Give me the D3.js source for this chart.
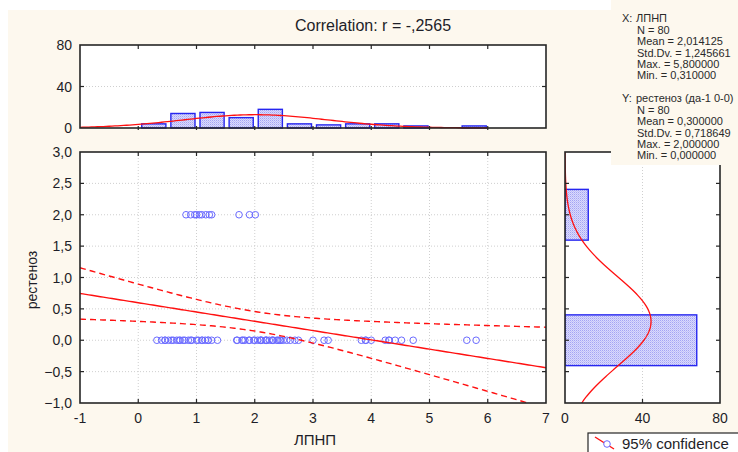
<!DOCTYPE html>
<html><head><meta charset="utf-8">
<script src="https://cdn.jsdelivr.net/npm/d3@7"></script>
<style>body{margin:0;background:#fff}svg{display:block;font-family:"Liberation Sans",Arial,sans-serif}</style>
</head><body><svg id="c" width="738" height="452"></svg>
<script>
// ---------- data ----------
const xTicks = [-1, 0, 1, 2, 3, 4, 5, 6, 7];
const yTicks = [-1, -0.5, 0, 0.5, 1, 1.5, 2, 2.5, 3];
const histTicks = [0, 40, 80];
// ЛПНП values of cases with рестеноз = 0
const pointsY0X = [0.32,0.40,0.46,0.46, 0.52,0.57,0.6,0.66,0.7,0.72,0.77,0.8,0.86,0.9,0.92,
  1.00,1.03,1.09,1.1,1.15,1.2,1.20,1.26,1.36, 1.69,1.7,1.78,1.8,1.83,1.9,1.91,1.98,
  2.0,2.05,2.1,2.1,2.12,2.18,2.2,2.2,2.25,2.3,2.3,2.32,2.38,2.4,2.43,2.45,2.49,
  2.55,2.61,2.69,2.75, 3.0,3.19,3.26, 3.83,3.9,3.91,4.0, 4.24,4.3,4.31,4.41, 4.52,4.72, 5.64,5.8];
// ЛПНП values of cases with рестеноз = 2
const pointsY2X = [0.82,0.90,0.97,1.0,1.05,1.09,1.16,1.22,1.26,1.73,1.91,2.01];
const xBinStarts = [0,0.5,1,1.5,2,2.5,3,3.5,4,4.5,5,5.5];
const xBinCounts = [4,14,15,10,18,4,3,4,4,2,0,2];
const yBinCenters = [0, 2];
const yBinCounts = [68, 12];
const nCases = 80;
const corrR = -0.2565;
const xMean = 2.014125, xSd = 1.245661, xMax = 5.8, xMin = 0.31;
const yMean = 0.3, ySd = 0.718649, yMax = 2.0, yMin = 0.0;
const xName = "ЛПНП", yName = "рестеноз", yLongName = "рестеноз (да-1 0-0)";
const titleText = "Correlation: r = -,2565";
const legendText = "95% confidence";

// ---------- helpers ----------
const comma = s => s.replace(".", ",");
const f6 = v => comma(d3.format(".6f")(v));
const f1 = v => comma(d3.format(".1f")(v));

const svg = d3.select("#c");
const cream = "#fdf8ee";
const frameCol = "#262626";
const textCol = "#1e1e28";
const blue = "#2626f0";
const ptBlue = "#6a6aff";

// background
svg.append("rect").attr("x", 8).attr("y", 10).attr("width", 730).attr("height", 442).attr("fill", cream);

const defs = svg.append("defs");
const pat = defs.append("pattern").attr("id", "hatch").attr("patternUnits", "userSpaceOnUse")
  .attr("width", 2).attr("height", 2);
pat.append("rect").attr("width", 2).attr("height", 2).attr("fill", "#dadafc");
pat.append("rect").attr("width", 1).attr("height", 1).attr("fill", "#a4a4f4");
pat.append("rect").attr("x", 1).attr("y", 1).attr("width", 1).attr("height", 1).attr("fill", "#c0c0f8");

// ---------- scales ----------
const x = d3.scaleLinear().domain([-1, 7]).range([80, 546]);
const y = d3.scaleLinear().domain([-1, 3]).range([403, 152]);
const hy = d3.scaleLinear().domain([0, 80]).range([128, 45]);
const hx = d3.scaleLinear().domain([0, 80]).range([565, 720]);

defs.append("clipPath").attr("id", "clipMain").append("rect")
  .attr("x", 80).attr("y", 152).attr("width", 466).attr("height", 251);
defs.append("clipPath").attr("id", "clipRight").append("rect")
  .attr("x", 565).attr("y", 152).attr("width", 155).attr("height", 251);

// plot backgrounds
svg.append("rect").attr("x", 80).attr("y", 152).attr("width", 466).attr("height", 251).attr("fill", "#fff");
svg.append("rect").attr("x", 80).attr("y", 45).attr("width", 466).attr("height", 83).attr("fill", "#fff");
svg.append("rect").attr("x", 565).attr("y", 152).attr("width", 155).attr("height", 251).attr("fill", "#fff");

// ---------- grid ----------
const grid = svg.append("g").attr("stroke", "#cfcfcf").attr("stroke-dasharray", "1,2").attr("stroke-width", 1);
xTicks.slice(1, -1).forEach(t => grid.append("line").attr("x1", x(t)).attr("x2", x(t)).attr("y1", 152).attr("y2", 403));
yTicks.slice(1, -1).forEach(t => grid.append("line").attr("y1", y(t)).attr("y2", y(t)).attr("x1", 80).attr("x2", 546));
grid.append("line").attr("x1", 80).attr("x2", 546).attr("y1", hy(40)).attr("y2", hy(40));
grid.append("line").attr("x1", hx(40)).attr("x2", hx(40)).attr("y1", 152).attr("y2", 403);

// ---------- regression + confidence ----------
const slope = corrR * ySd / xSd;
const intercept = yMean - slope * xMean;
const sRes = ySd * Math.sqrt((1 - corrR * corrR) * (nCases - 1) / (nCases - 2));
const Sxx = (nCases - 1) * xSd * xSd;
const tCrit = 1.9908;
const xs = d3.range(-1, 7.001, 0.05);
const fit = v => intercept + slope * v;
const half = v => tCrit * sRes * Math.sqrt(1 / nCases + (v - xMean) ** 2 / Sxx);
const line = d3.line().x(d => x(d[0])).y(d => y(d[1]));
const gm = svg.append("g").attr("clip-path", "url(#clipMain)");

// points
gm.selectAll("circle.p0").data(pointsY0X).join("circle")
  .attr("cx", d => x(d)).attr("cy", y(0)).attr("r", 3.3)
  .attr("fill", "none").attr("stroke", ptBlue).attr("stroke-width", 1);
gm.selectAll("circle.p2").data(pointsY2X).join("circle")
  .attr("cx", d => x(d)).attr("cy", y(2)).attr("r", 3.3)
  .attr("fill", "none").attr("stroke", ptBlue).attr("stroke-width", 1);

gm.append("path").attr("d", line(xs.map(v => [v, fit(v)])))
  .attr("fill", "none").attr("stroke", "#ff1010").attr("stroke-width", 1.4);
gm.append("path").attr("d", line(xs.map(v => [v, fit(v) + half(v)])))
  .attr("fill", "none").attr("stroke", "#ff1010").attr("stroke-width", 1.4).attr("stroke-dasharray", "6,4");
gm.append("path").attr("d", line(xs.map(v => [v, fit(v) - half(v)])))
  .attr("fill", "none").attr("stroke", "#ff1010").attr("stroke-width", 1.4).attr("stroke-dasharray", "6,4");

// ---------- top histogram ----------
svg.selectAll("rect.hb").data(xBinStarts).join("rect")
  .attr("x", d => x(d) + 3.5)
  .attr("width", d => x(d + 0.5) - x(d) - 5)
  .attr("y", (d, i) => hy(xBinCounts[i]))
  .attr("height", (d, i) => hy(0) - hy(xBinCounts[i]))
  .attr("fill", "url(#hatch)").attr("stroke", blue).attr("stroke-width", 1.4)
  .style("display", (d, i) => xBinCounts[i] > 0 ? null : "none");
const pdf = (v, m, s) => Math.exp(-0.5 * ((v - m) / s) ** 2) / (s * Math.sqrt(2 * Math.PI));
const topCurve = d3.range(-1, 6.001, 0.05).map(v => [x(v), hy(nCases * 0.5 * pdf(v, xMean, xSd))]);
svg.append("path").attr("d", d3.line()(topCurve)).attr("fill", "none").attr("stroke", "#ff1010").attr("stroke-width", 1.3);

// ---------- right histogram ----------
const gr = svg.append("g").attr("clip-path", "url(#clipRight)");
gr.selectAll("rect.vb").data(yBinCenters).join("rect")
  .attr("x", hx(0))
  .attr("width", (d, i) => hx(yBinCounts[i]) - hx(0))
  .attr("y", d => y(d + 0.5) + 6)
  .attr("height", d => y(d - 0.5) - y(d + 0.5) - 12)
  .attr("fill", "url(#hatch)").attr("stroke", blue).attr("stroke-width", 1.4);
const rightCurve = d3.range(-1, 3.001, 0.02).map(v => [hx(nCases * 1 * pdf(v, yMean, ySd)), y(v)]);
gr.append("path").attr("d", d3.line()(rightCurve)).attr("fill", "none").attr("stroke", "#ff1010").attr("stroke-width", 1.3);

// ---------- frames & ticks ----------
const fr = svg.append("g").attr("fill", "none").attr("stroke", frameCol).attr("stroke-width", 1.6);
fr.append("rect").attr("x", 80).attr("y", 152).attr("width", 466).attr("height", 251);
fr.append("rect").attr("x", 80).attr("y", 45).attr("width", 466).attr("height", 83);
fr.append("rect").attr("x", 565).attr("y", 152).attr("width", 155).attr("height", 251);

const tk = svg.append("g").attr("stroke", frameCol).attr("stroke-width", 1.2);
xTicks.slice(1, -1).forEach(t => {
  tk.append("line").attr("x1", x(t)).attr("x2", x(t)).attr("y1", 403).attr("y2", 399);
  tk.append("line").attr("x1", x(t)).attr("x2", x(t)).attr("y1", 152).attr("y2", 156);
  tk.append("line").attr("x1", x(t)).attr("x2", x(t)).attr("y1", 45).attr("y2", 49);
  tk.append("line").attr("x1", x(t)).attr("x2", x(t)).attr("y1", 126).attr("y2", 130);
});
yTicks.slice(1, -1).forEach(t => {
  tk.append("line").attr("x1", 80).attr("x2", 84).attr("y1", y(t)).attr("y2", y(t));
  tk.append("line").attr("x1", 546).attr("x2", 542).attr("y1", y(t)).attr("y2", y(t));
  tk.append("line").attr("x1", 565).attr("x2", 569).attr("y1", y(t)).attr("y2", y(t));
  tk.append("line").attr("x1", 720).attr("x2", 716).attr("y1", y(t)).attr("y2", y(t));
});
tk.append("line").attr("x1", 80).attr("x2", 84).attr("y1", hy(40)).attr("y2", hy(40));
tk.append("line").attr("x1", 546).attr("x2", 542).attr("y1", hy(40)).attr("y2", hy(40));
tk.append("line").attr("x1", hx(40)).attr("x2", hx(40)).attr("y1", 403).attr("y2", 399);

// ---------- tick labels ----------
const tl = svg.append("g").attr("fill", textCol).attr("font-size", 14);
xTicks.forEach(t => tl.append("text").attr("x", x(t)).attr("y", 423).attr("text-anchor", "middle").text(String(t)));
yTicks.forEach(t => tl.append("text").attr("x", 72).attr("y", y(t) + 5).attr("text-anchor", "end").text(f1(t)));
histTicks.forEach(t => tl.append("text").attr("x", 72).attr("y", hy(t) + 5).attr("text-anchor", "end").text(String(t)));
histTicks.forEach(t => tl.append("text").attr("x", hx(t)).attr("y", 423).attr("text-anchor", "middle").text(String(t)));

// axis titles
svg.append("text").attr("x", 315).attr("y", 445).attr("text-anchor", "middle").attr("font-size", 15).attr("fill", textCol).text(xName);
svg.append("text").attr("transform", "translate(37,280) rotate(-90)").attr("text-anchor", "middle")
  .attr("font-size", 14).attr("fill", textCol).text(yName);
svg.append("text").attr("x", 373).attr("y", 31).attr("text-anchor", "middle").attr("font-size", 16).attr("fill", textCol).text(titleText);

// ---------- stats box ----------
svg.append("rect").attr("x", 611).attr("y", 0).attr("width", 127).attr("height", 165).attr("fill", cream);
const sx = ["N = " + nCases, "Mean = " + f6(xMean), "Std.Dv. = " + f6(xSd), "Max. = " + f6(xMax), "Min. = " + f6(xMin)];
const sy = ["N = " + nCases, "Mean = " + f6(yMean), "Std.Dv. = " + f6(ySd), "Max. = " + f6(yMax), "Min. = " + f6(yMin)];
const st = svg.append("g").attr("fill", "#2a2a2a").attr("font-size", 11);
st.append("text").attr("x", 622).attr("y", 22).text("X:");
st.append("text").attr("x", 636).attr("y", 22).text(xName);
sx.forEach((s, i) => st.append("text").attr("x", 637).attr("y", 34 + i * 11.3).text(s));
st.append("text").attr("x", 622).attr("y", 102).text("Y:");
st.append("text").attr("x", 636).attr("y", 102).text(yLongName);
sy.forEach((s, i) => st.append("text").attr("x", 637).attr("y", 114 + i * 11.3).text(s));

// ---------- legend ----------
svg.append("rect").attr("x", 588).attr("y", 433).attr("width", 160).attr("height", 25)
  .attr("fill", "#fff").attr("stroke", frameCol).attr("stroke-width", 1.2);
svg.append("line").attr("x1", 595).attr("y1", 437).attr("x2", 614).attr("y2", 449)
  .attr("stroke", "#ff1010").attr("stroke-width", 1.4);
svg.append("circle").attr("cx", 607).attr("cy", 444).attr("r", 3.3).attr("fill", "#fff").attr("stroke", ptBlue);
svg.append("text").attr("x", 622).attr("y", 449).attr("font-size", 15).attr("fill", textCol).text(legendText);
</script></body></html>
